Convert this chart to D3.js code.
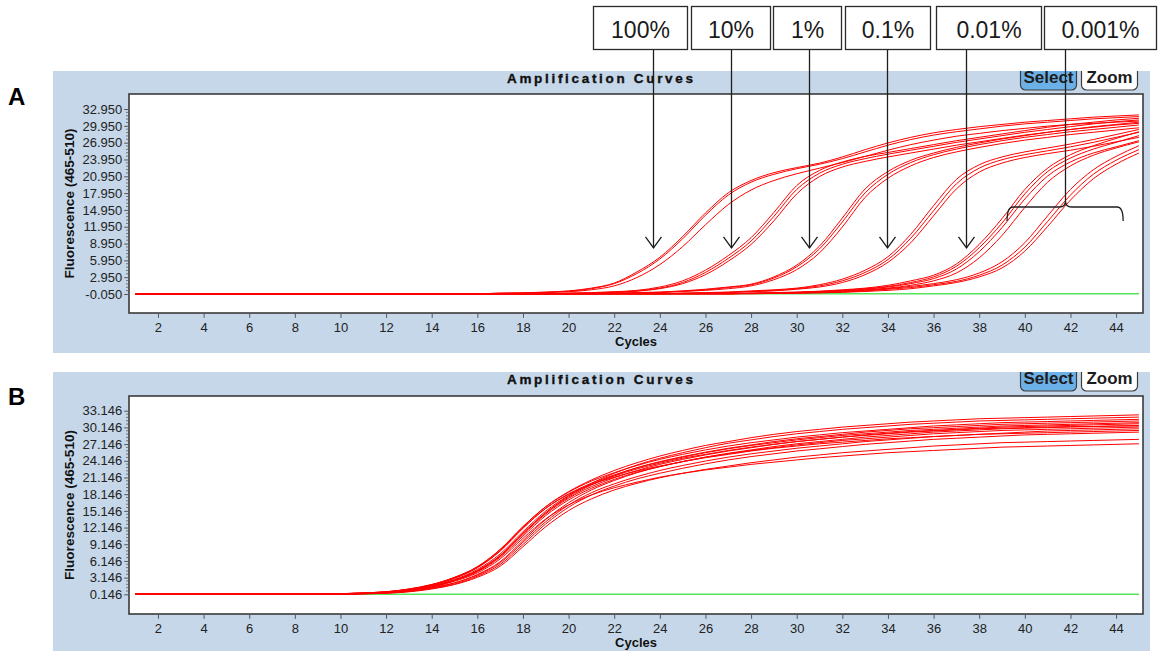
<!DOCTYPE html>
<html>
<head>
<meta charset="utf-8">
<script src="https://cdn.jsdelivr.net/npm/d3@7"></script>
<style>
  html, body { margin: 0; padding: 0; background: #ffffff; }
  svg { display: block; }
  text { font-family: "Liberation Sans", Arial, sans-serif; }
</style>
</head>
<body>
<svg id="chart" width="1158" height="653"></svg>
<script>
// ---------- data ----------
const cycles = [1,2,3,4,5,6,7,8,9,10,11,12,13,14,15,16,17,18,19,20,21,22,23,24,25,26,27,28,29,30,31,32,33,34,35,36,37,38,39,40,41,42,43,44,45];
const xTickLabels = ["2","4","6","8","10","12","14","16","18","20","22","24","26","28","30","32","34","36","38","40","42","44"];
const yTickLabelsA = ["-0.050","2.950","5.950","8.950","11.950","14.950","17.950","20.950","23.950","26.950","29.950","32.950"];
const yTickLabelsB = ["0.146","3.146","6.146","9.146","12.146","15.146","18.146","21.146","24.146","27.146","30.146","33.146"];

// Panel A: dilution series, fluorescence per cycle (cycles 1..45)
const dil100 = [
  [0,0,0,0,0, 0,0,0,0,0, 0,0,0,0,0, 0, 0.1,0.15,0.3,0.5,1.0,1.9,3.9,6.5,10.2,14.4,18.0,20.2,21.6,22.5,23.3,24.4,25.7,26.9,27.9,28.7,29.3,29.8,30.2,30.6,30.9,31.2,31.5,31.7,31.9],
  [0,0,0,0,0, 0,0,0,0,0, 0,0,0,0,0, 0, 0.1,0.15,0.25,0.45,0.9,1.8,3.6,6.2,9.8,14.0,17.6,19.9,21.3,22.3,23.1,24.1,25.3,26.5,27.5,28.3,28.9,29.4,29.9,30.3,30.6,30.9,31.2,31.4,31.6],
  [0,0,0,0,0, 0,0,0,0,0, 0,0,0,0,0, 0, 0.05,0.1,0.2,0.35,0.7,1.4,2.9,5.2,8.4,12.3,15.9,18.5,20.2,21.4,22.4,23.4,24.5,25.6,26.6,27.4,28.1,28.6,29.1,29.5,29.9,30.2,30.4,30.6,30.8]
];
const dil10 = [
  [0,0,0,0,0, 0,0,0,0,0, 0,0,0,0,0, 0,0,0,0, 0.1,0.2,0.35,0.6,1.2,2.3,4.2,6.8,10.0,14.5,19.3,22.0,23.5,24.5,25.2,25.9,26.6,27.3,27.9,28.5,29.1,29.7,30.2,30.6,31.0,31.3],
  [0,0,0,0,0, 0,0,0,0,0, 0,0,0,0,0, 0,0,0,0, 0.1,0.15,0.3,0.5,1.0,2.0,3.8,6.3,9.4,13.8,18.6,21.5,23.1,24.1,24.9,25.6,26.3,27.0,27.6,28.2,28.8,29.3,29.8,30.3,30.7,31.0],
  [0,0,0,0,0, 0,0,0,0,0, 0,0,0,0,0, 0,0,0,0, 0.05,0.1,0.25,0.45,0.9,1.8,3.4,5.8,8.8,13.0,17.8,20.9,22.6,23.6,24.4,25.1,25.8,26.5,27.1,27.7,28.3,28.8,29.3,29.7,30.1,30.4]
];
const dil1 = [
  [0,0,0,0,0, 0,0,0,0,0, 0,0,0,0,0, 0,0,0,0,0, 0, 0.1,0.2,0.3,0.5,0.8,1.2,1.7,3.0,5.1,8.5,13.5,18.7,21.8,23.8,25.1,26.1,26.9,27.6,28.2,28.8,29.3,29.8,30.2,30.6],
  [0,0,0,0,0, 0,0,0,0,0, 0,0,0,0,0, 0,0,0,0,0, 0, 0.1,0.15,0.25,0.45,0.7,1.1,1.6,2.8,4.8,8.0,12.8,18.0,21.3,23.4,24.8,25.8,26.6,27.3,27.9,28.4,28.9,29.3,29.7,30.1],
  [0,0,0,0,0, 0,0,0,0,0, 0,0,0,0,0, 0,0,0,0,0, 0, 0.05,0.1,0.2,0.4,0.6,0.9,1.4,2.5,4.3,7.3,11.9,17.2,20.6,22.8,24.3,25.3,26.1,26.8,27.4,27.9,28.4,28.8,29.2,29.6]
];
const dil01 = [
  [0,0,0,0,0, 0,0,0,0,0, 0,0,0,0,0, 0,0,0,0,0, 0,0,0,0, 0.1,0.2,0.3,0.5,0.7,1.0,1.6,2.6,4.2,6.6,10.6,15.7,20.4,23.0,24.4,25.3,26.0,26.7,27.5,28.4,29.3],
  [0,0,0,0,0, 0,0,0,0,0, 0,0,0,0,0, 0,0,0,0,0, 0,0,0,0, 0.1,0.15,0.25,0.4,0.6,0.9,1.4,2.3,3.8,6.1,9.9,14.8,19.6,22.4,23.9,24.8,25.5,26.2,27.0,27.9,28.8],
  [0,0,0,0,0, 0,0,0,0,0, 0,0,0,0,0, 0,0,0,0,0, 0,0,0,0, 0.05,0.1,0.2,0.35,0.5,0.8,1.2,2.0,3.4,5.6,9.1,13.9,18.7,21.7,23.3,24.3,25.0,25.6,26.3,27.1,27.9]
];
const dil001 = [
  [0,0,0,0,0, 0,0,0,0,0, 0,0,0,0,0, 0,0,0,0,0, 0,0,0,0,0, 0,0, 0.1,0.2,0.3,0.45,0.7,1.0,1.5,2.3,3.3,5.3,8.8,13.4,18.6,22.4,24.8,26.4,27.7,28.9],
  [0,0,0,0,0, 0,0,0,0,0, 0,0,0,0,0, 0,0,0,0,0, 0,0,0,0,0, 0,0, 0.1,0.15,0.25,0.4,0.6,0.9,1.3,2.0,3.0,4.9,8.2,12.6,17.8,21.8,24.2,25.8,27.0,28.2],
  [0,0,0,0,0, 0,0,0,0,0, 0,0,0,0,0, 0,0,0,0,0, 0,0,0,0,0, 0,0, 0.05,0.1,0.2,0.35,0.5,0.8,1.2,1.8,2.7,4.4,7.5,11.8,16.9,21.0,23.5,25.1,26.2,27.3]
];
const dil0001 = [
  [0,0,0,0,0, 0,0,0,0,0, 0,0,0,0,0, 0,0,0,0,0, 0,0,0,0,0, 0,0, 0.05,0.1,0.2,0.3,0.45,0.7,1.0,1.5,2.3,3.7,6.4,10.4,15.4,19.9,22.8,24.7,26.0,27.1],
  [0,0,0,0,0, 0,0,0,0,0, 0,0,0,0,0, 0,0,0,0,0, 0,0,0,0,0, 0,0, 0.05,0.1,0.15,0.25,0.4,0.6,0.9,1.3,1.8,2.5,3.7,5.7,9.1,13.9,18.6,22.1,24.5,26.4],
  [0,0,0,0,0, 0,0,0,0,0, 0,0,0,0,0, 0,0,0,0,0, 0,0,0,0,0, 0,0,0, 0.05,0.1,0.2,0.3,0.5,0.8,1.1,1.6,2.2,3.3,5.1,8.3,12.9,17.6,21.3,23.8,25.7],
  [0,0,0,0,0, 0,0,0,0,0, 0,0,0,0,0, 0,0,0,0,0, 0,0,0,0,0, 0,0,0, 0.05,0.1,0.15,0.25,0.4,0.6,0.9,1.4,2.0,3.0,4.6,7.6,12.0,16.7,20.5,23.1,25.1]
];
const ntcA = [0,0,0,0,0, 0,0,0,0,0, 0,0,0,0,0, 0,0,0,0,0, 0,0,0,0,0, 0,0,0,0,0, 0,0,0,0,0, 0,0,0,0,0, 0,0,0,0,0];

// Panel B: replicate reactions, fluorescence per cycle (cycles 1..45)
const replicatesB = [
  [0.15,0.15,0.15,0.15,0.15,0.15,0.15,0.15,0.15, 0.25,0.4,0.6,1.1,1.9,3.2,5.1,8.2,12.3,15.9,18.6,20.7,22.4, 23.8,25.0,26.0,26.9,27.6,28.3,28.9,29.4,29.8,30.2,30.5,30.8,31.1,31.3,31.5,31.7,31.8,31.9,32.0,32.1,32.2,32.3,32.4],
  [0.15,0.15,0.15,0.15,0.15,0.15,0.15,0.15,0.15, 0.2,0.3,0.5,0.9,1.6,2.7,4.4,7.1,11.1,14.8,17.8,20.1,21.9, 23.4,24.6,25.6,26.5,27.3,27.9,28.5,29.0,29.4,29.8,30.1,30.4,30.7,30.9,31.1,31.3,31.4,31.5,31.6,31.7,31.8,31.9,32.0],
  [0.15,0.15,0.15,0.15,0.15,0.15,0.15,0.15,0.15, 0.25,0.4,0.6,1.1,1.9,3.2,5.1,8.2,12.3,15.9,18.5,20.5,22.0, 23.3,24.4,25.3,26.1,26.8,27.4,27.9,28.4,28.8,29.2,29.5,29.8,30.1,30.4,30.6,30.8,31.0,31.1,31.2,31.3,31.4,31.5,31.6],
  [0.15,0.15,0.15,0.15,0.15,0.15,0.15,0.15,0.15, 0.2,0.3,0.5,0.9,1.6,2.7,4.4,7.1,11.1,14.8,17.6,19.8,21.5, 22.9,24.0,24.9,25.7,26.4,27.0,27.6,28.1,28.5,28.9,29.3,29.6,29.9,30.1,30.3,30.5,30.7,30.8,30.9,31.0,31.1,31.2,31.3],
  [0.15,0.15,0.15,0.15,0.15,0.15,0.15,0.15,0.15, 0.25,0.35,0.55,1.0,1.8,3.0,4.9,7.9,12.0,15.6,18.2,20.1,21.6, 22.9,23.9,24.8,25.6,26.3,26.9,27.4,27.9,28.3,28.7,29.0,29.3,29.6,29.8,30.0,30.2,30.4,30.5,30.6,30.7,30.8,30.9,31.0],
  [0.15,0.15,0.15,0.15,0.15,0.15,0.15,0.15,0.15, 0.2,0.3,0.5,0.9,1.6,2.7,4.3,7.0,10.9,14.6,17.4,19.5,21.1, 22.4,23.5,24.4,25.2,25.9,26.5,27.1,27.6,28.0,28.4,28.8,29.1,29.4,29.6,29.8,30.0,30.2,30.3,30.4,30.5,30.6,30.7,30.8],
  [0.15,0.15,0.15,0.15,0.15,0.15,0.15,0.15,0.15, 0.2,0.25,0.4,0.7,1.3,2.2,3.7,6.0,9.8,13.6,16.6,18.9,20.6, 22.0,23.1,24.0,24.8,25.5,26.1,26.7,27.2,27.6,28.0,28.4,28.7,29.0,29.3,29.5,29.7,29.9,30.0,30.1,30.2,30.3,30.4,30.5],
  [0.15,0.15,0.15,0.15,0.15,0.15,0.15,0.15,0.15, 0.2,0.3,0.45,0.85,1.5,2.6,4.2,6.8,10.6,14.3,17.1,19.2,20.8, 22.1,23.1,24.0,24.8,25.4,26.0,26.5,27.0,27.4,27.8,28.1,28.4,28.7,29.0,29.2,29.4,29.6,29.7,29.8,29.9,30.0,30.1,30.2],
  [0.15,0.15,0.15,0.15,0.15,0.15,0.15,0.15,0.15, 0.2,0.25,0.4,0.7,1.3,2.2,3.6,5.8,9.5,13.2,16.2,18.4,20.0, 21.3,22.4,23.3,24.1,24.8,25.4,25.9,26.4,26.8,27.2,27.6,27.9,28.2,28.5,28.7,28.9,29.1,29.3,29.5,29.6,29.7,29.8,29.9],
  [0.15,0.15,0.15,0.15,0.15,0.15,0.15,0.15,0.15, 0.2,0.25,0.35,0.65,1.2,2.0,3.4,5.5,9.1,12.8,15.8,18.0,19.6, 20.9,21.9,22.8,23.6,24.3,24.9,25.4,25.9,26.3,26.7,27.1,27.4,27.7,28.0,28.2,28.4,28.6,28.8,28.9,29.0,29.1,29.2,29.3],
  [0.15,0.15,0.15,0.15,0.15,0.15,0.15,0.15,0.15, 0.2,0.25,0.35,0.6,1.1,1.9,3.2,5.2,8.7,12.3,15.2,17.3,18.9, 20.1,21.1,21.9,22.6,23.2,23.8,24.3,24.8,25.2,25.6,25.9,26.2,26.5,26.8,27.0,27.2,27.4,27.5,27.6,27.7,27.8,27.9,28.0],
  [0.15,0.15,0.15,0.15,0.15,0.15,0.15,0.15,0.15, 0.2,0.3,0.45,0.8,1.4,2.5,4.0,6.5,10.2,13.7,16.2,18.0,19.3, 20.3,21.2,21.9,22.5,23.0,23.5,23.9,24.3,24.7,25.0,25.3,25.6,25.8,26.0,26.2,26.4,26.6,26.7,26.8,26.9,27.0,27.1,27.2],
  [0.15,0.15,0.15,0.15,0.15,0.15,0.15,0.15,0.15, 0.2,0.3,0.5,0.95,1.7,2.8,4.6,7.4,11.4,15.1,17.9,19.9,21.4, 22.7,23.7,24.6,25.3,26.0,26.6,27.1,27.6,28.0,28.4,28.7,29.0,29.3,29.5,29.7,29.9,30.0,30.1,30.2,30.3,30.3,30.4,30.4],
  [0.15,0.15,0.15,0.15,0.15,0.15,0.15,0.15,0.15, 0.25,0.4,0.6,1.05,1.85,3.1,5.0,8.0,12.1,15.6,18.1,19.9,21.2, 22.3,23.2,24.0,24.7,25.3,25.9,26.4,26.8,27.2,27.5,27.8,28.1,28.3,28.5,28.7,28.9,29.0,29.1,29.2,29.3,29.4,29.5,29.6]
];
const ntcB = [0.15,0.15,0.15,0.15,0.15,0.15,0.15,0.15,0.15,0.15,0.15,0.15,0.15,0.15,0.15,0.15,0.15,0.15,0.15,0.15,0.15,0.15,0.15,0.15,0.15,0.15,0.15,0.15,0.15,0.15,0.15,0.15,0.15,0.15,0.15,0.15,0.15,0.15,0.15,0.15,0.15,0.15,0.15,0.15,0.15];

// Dilution call-outs: label and the cycle / fluorescence each arrow points to
const dilutionLabels = ["100%","10%","1%","0.1%","0.01%","0.001%"];
const arrowCycle = [23.7, 27.12, 30.54, 33.96, 37.42, 41.76];
const arrowTipValue = 8.16;
const braceCycles = [39.22, 44.31];
const braceValues = [15.47, 12.97];

// ---------- layout ----------
const X_DOMAIN = [0.73, 45.18];
const layoutA = { id: "A", panel: [53, 71, 1150, 353], plot: [129, 94, 1143, 313], yDomain: [-3.44, 35.63], letterY: 105 };
const layoutB = { id: "B", panel: [53, 372, 1150, 651], plot: [129, 396, 1143, 614], yDomain: [-3.39, 35.79], letterY: 405 };
const boxEdges = [[593, 687], [691, 770], [773, 841], [845, 930], [936, 1041], [1044, 1156]];
const boxTop = 6, boxBottom = 49;

const RED = "#ff0000", GREEN = "#58e358", PANEL = "#c5d7e8";

const svg = d3.select("#chart");
const defs = svg.append("defs");

function drawPanel(L, curveSets, ntc, yLabels) {
  const [px0, py0, px1, py1] = L.panel;
  const [x0, y0, x1, y1] = L.plot;
  const g = svg.append("g");

  g.append("rect").attr("x", px0).attr("y", py0).attr("width", px1 - px0).attr("height", py1 - py0).attr("fill", PANEL);

  defs.append("clipPath").attr("id", "panelClip" + L.id).append("rect")
    .attr("x", px0).attr("y", py0).attr("width", px1 - px0).attr("height", py1 - py0);
  defs.append("clipPath").attr("id", "plotClip" + L.id).append("rect")
    .attr("x", x0).attr("y", y0).attr("width", x1 - x0).attr("height", y1 - y0);

  // toolbar buttons, partly hidden by the panel's top edge
  const bg = g.append("g").attr("clip-path", `url(#panelClip${L.id})`);
  [["Select", 1020, 56, "#6cb0e8", 50], ["Zoom", 1081, 56, "#ffffff", 46]].forEach(([label, bx, bw, fill, tl]) => {
    bg.append("rect").attr("x", bx + 0.5).attr("y", py0 - 8).attr("width", bw).attr("height", 27)
      .attr("rx", 5).attr("fill", fill).attr("stroke", "#3d3d3d").attr("stroke-width", 1.2);
    bg.append("text").attr("x", bx + bw / 2 + 0.5).attr("y", py0 + 12).attr("text-anchor", "middle")
      .attr("font-size", 17).attr("font-weight", "bold").attr("fill", "#1c1c1c")
      .attr("textLength", tl).attr("lengthAdjust", "spacingAndGlyphs").text(label);
  });

  // panel title, heavy and widely tracked
  g.append("text").attr("x", 600).attr("y", py0 + 11.5).attr("text-anchor", "middle")
    .attr("font-size", 13.5).attr("font-weight", "bold").attr("fill", "#111")
    .attr("stroke", "#111").attr("stroke-width", 0.35)
    .attr("textLength", 186).attr("lengthAdjust", "spacing").text("Amplification Curves");

  g.append("rect").attr("x", x0).attr("y", y0).attr("width", x1 - x0).attr("height", y1 - y0).attr("fill", "#ffffff");

  const x = d3.scaleLinear().domain(X_DOMAIN).range([x0, x1]);
  const y = d3.scaleLinear().domain(L.yDomain).range([y1, y0]);

  const line = d3.line().x((d, i) => x(cycles[i])).y(d => y(d)).curve(d3.curveMonotoneX);

  const plot = g.append("g").attr("clip-path", `url(#plotClip${L.id})`);
  plot.append("path").datum(ntc).attr("d", line).attr("fill", "none").attr("stroke", GREEN).attr("stroke-width", 1.6);
  curveSets.forEach(set => {
    plot.selectAll(null).data(set).join("path").attr("d", line)
      .attr("fill", "none").attr("stroke", RED).attr("stroke-width", 1);
  });

  g.append("rect").attr("x", x0).attr("y", y0).attr("width", x1 - x0).attr("height", y1 - y0)
    .attr("fill", "none").attr("stroke", "#3a3a3a").attr("stroke-width", 1.6);

  // y axis: major ticks with labels, minor ticks between them
  const yVals = yLabels.map(Number);
  const yAxis = d3.axisLeft(y).tickValues(yVals).tickFormat((d, i) => yLabels[i]).tickSize(4).tickPadding(2);
  const ya = g.append("g").attr("transform", `translate(${x0 - 0.8},0)`).call(yAxis);
  ya.select(".domain").remove();
  ya.selectAll("line").attr("stroke", "#555");
  ya.selectAll("text").attr("font-size", 13).attr("fill", "#222").attr("font-family", "Liberation Sans, Arial, sans-serif");
  const minor = [];
  for (let i = 0; i < yVals.length - 1; i++) for (let k = 1; k < 5; k++) minor.push(yVals[i] + (yVals[i + 1] - yVals[i]) * k / 5);
  g.append("g").selectAll("line").data(minor).join("line")
    .attr("x1", x0 - 3).attr("x2", x0 - 1).attr("y1", d => y(d)).attr("y2", d => y(d)).attr("stroke", "#777");

  // x axis
  const xVals = xTickLabels.map(Number);
  const xAxis = d3.axisBottom(x).tickValues(xVals).tickFormat((d, i) => xTickLabels[i]).tickSize(4).tickPadding(5);
  const xa = g.append("g").attr("transform", `translate(0,${y1 + 0.8})`).call(xAxis);
  xa.select(".domain").remove();
  xa.selectAll("line").attr("stroke", "#555");
  xa.selectAll("text").attr("font-size", 13).attr("fill", "#222").attr("font-family", "Liberation Sans, Arial, sans-serif");

  g.append("text").attr("x", (x0 + x1) / 2).attr("y", y1 + 33).attr("text-anchor", "middle")
    .attr("font-size", 13).attr("font-weight", "bold").attr("fill", "#111").text("Cycles");

  g.append("text").attr("transform", `translate(73.5,${(y0 + y1) / 2}) rotate(-90)`).attr("text-anchor", "middle")
    .attr("font-size", 12.5).attr("font-weight", "bold").attr("fill", "#111")
    .attr("textLength", 150).attr("lengthAdjust", "spacingAndGlyphs").text("Fluorescence (465-510)");

  svg.append("text").attr("x", 8).attr("y", L.letterY).attr("font-size", 24).attr("font-weight", "bold")
    .attr("fill", "#000").text(L.id);

  return { x, y };
}

const scA = drawPanel(layoutA, [dil100, dil10, dil1, dil01, dil001, dil0001], ntcA, yTickLabelsA);
drawPanel(layoutB, [replicatesB], ntcB, yTickLabelsB);

// ---------- dilution call-outs over panel A ----------
const ann = svg.append("g").attr("stroke", "#1e1e1e").attr("stroke-width", 1.3).attr("fill", "none");
const tipY = scA.y(arrowTipValue);
dilutionLabels.forEach((label, i) => {
  const [bx0, bx1] = boxEdges[i];
  svg.append("rect").attr("x", bx0 + 0.5).attr("y", boxTop + 0.5).attr("width", bx1 - bx0).attr("height", boxBottom - boxTop)
    .attr("fill", "#ffffff").attr("stroke", "#2a2a2a").attr("stroke-width", 1.3);
  svg.append("text").attr("x", (bx0 + bx1) / 2 + 0.5).attr("y", 37.5).attr("text-anchor", "middle")
    .attr("font-size", 23).attr("fill", "#1a1a1a").text(label);

  const ax = Math.round(scA.x(arrowCycle[i])) + 0.5;
  if (i < dilutionLabels.length - 1) {
    ann.append("line").attr("x1", ax).attr("x2", ax).attr("y1", boxBottom + 0.5).attr("y2", tipY);
    ann.append("path").attr("d", `M${ax - 8},${tipY - 11} L${ax},${tipY} L${ax + 8},${tipY - 11}`);
  } else {
    // brace spanning the late-rising curves
    const by = scA.y(braceValues[0]);
    const be = scA.y(braceValues[1]);
    const bl = scA.x(braceCycles[0]);
    const br = scA.x(braceCycles[1]);
    ann.append("line").attr("x1", ax).attr("x2", ax).attr("y1", boxBottom + 0.5).attr("y2", by - 6);
    ann.append("path").attr("d",
      `M${bl},${be} Q${bl},${by} ${bl + 6},${by} L${ax - 6},${by} Q${ax},${by} ${ax},${by - 6} ` +
      `Q${ax},${by} ${ax + 6},${by} L${br - 6},${by} Q${br},${by} ${br},${be}`);
  }
});
</script>
</body>
</html>
